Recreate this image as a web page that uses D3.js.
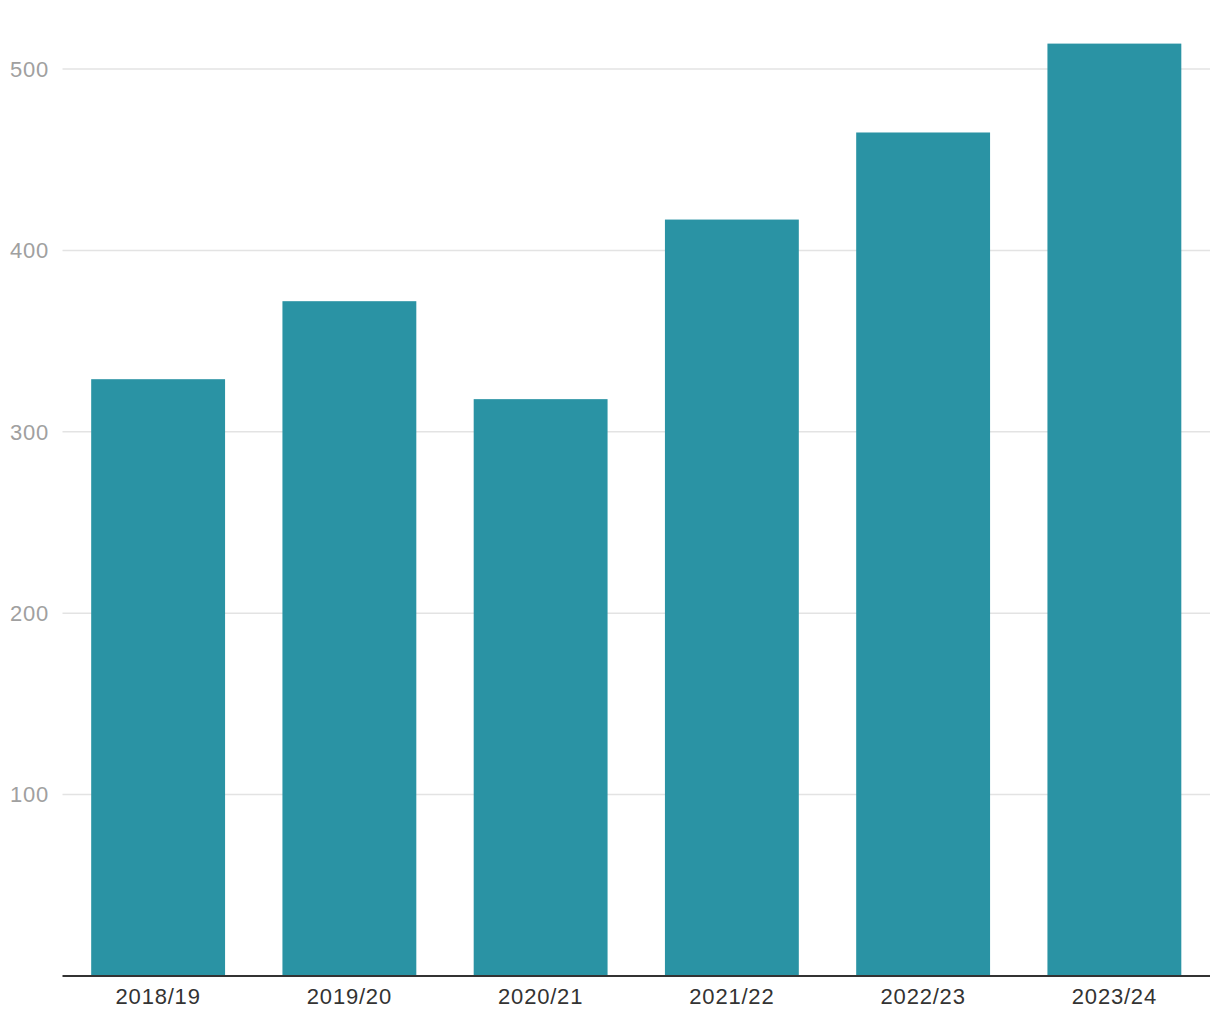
<!DOCTYPE html>
<html><head><meta charset="utf-8">
<script src="https://cdn.jsdelivr.net/npm/d3@7"></script>
<style>body{margin:0;background:#fff;} text{font-family:"Helvetica Neue",Arial,"Liberation Sans",sans-serif;}</style>
</head><body>
<svg id="chart" width="1220" height="1020"></svg>
<script>
const categories = ["2018/19","2019/20","2020/21","2021/22","2022/23","2023/24"];
const values = [329, 372, 318, 417, 465, 514];
const yTicks = [100, 200, 300, 400, 500];

const svg = d3.select("#chart");
const mLeft = 62.5, mRight = 1210, mBottom = 976;
const x = d3.scaleBand().domain(categories).range([mLeft, mRight]).paddingInner(0.3).paddingOuter(0.15);
const y = d3.scaleLinear().domain([0, 500]).range([mBottom, mBottom - 5 * 181.4]);

// grid
svg.append("g").selectAll("line").data(yTicks).join("line")
  .attr("x1", mLeft).attr("x2", mRight)
  .attr("y1", d => y(d)).attr("y2", d => y(d))
  .attr("stroke", "#e3e3e3").attr("stroke-width", 1.5);

// y labels
svg.append("g").selectAll("text").data(yTicks).join("text")
  .attr("x", 49).attr("y", d => y(d)).attr("dy", "0.35em")
  .attr("text-anchor", "end").attr("fill", "#a0a0a0").attr("font-size", 22)
  .attr("letter-spacing", 0.8)
  .text(d => d);

// bars
svg.append("g").selectAll("rect").data(values).join("rect")
  .attr("x", (d, i) => x(categories[i]))
  .attr("width", x.bandwidth())
  .attr("y", d => y(d))
  .attr("height", d => y(0) - y(d))
  .attr("fill", "#2a93a4");

// x axis
const xAxis = svg.append("g").attr("transform", `translate(0,${mBottom})`)
  .call(d3.axisBottom(x).tickSize(0).tickPadding(12).tickSizeOuter(0));
xAxis.select(".domain").attr("stroke", "#333").attr("stroke-width", 2).attr("d", `M${mLeft},0H${mRight}`);
xAxis.selectAll("text").attr("font-size", 22).attr("fill", "#333").attr("letter-spacing", 0.8)
  .attr("font-family", "\"Helvetica Neue\",Arial,\"Liberation Sans\",sans-serif");
</script>
</body></html>
